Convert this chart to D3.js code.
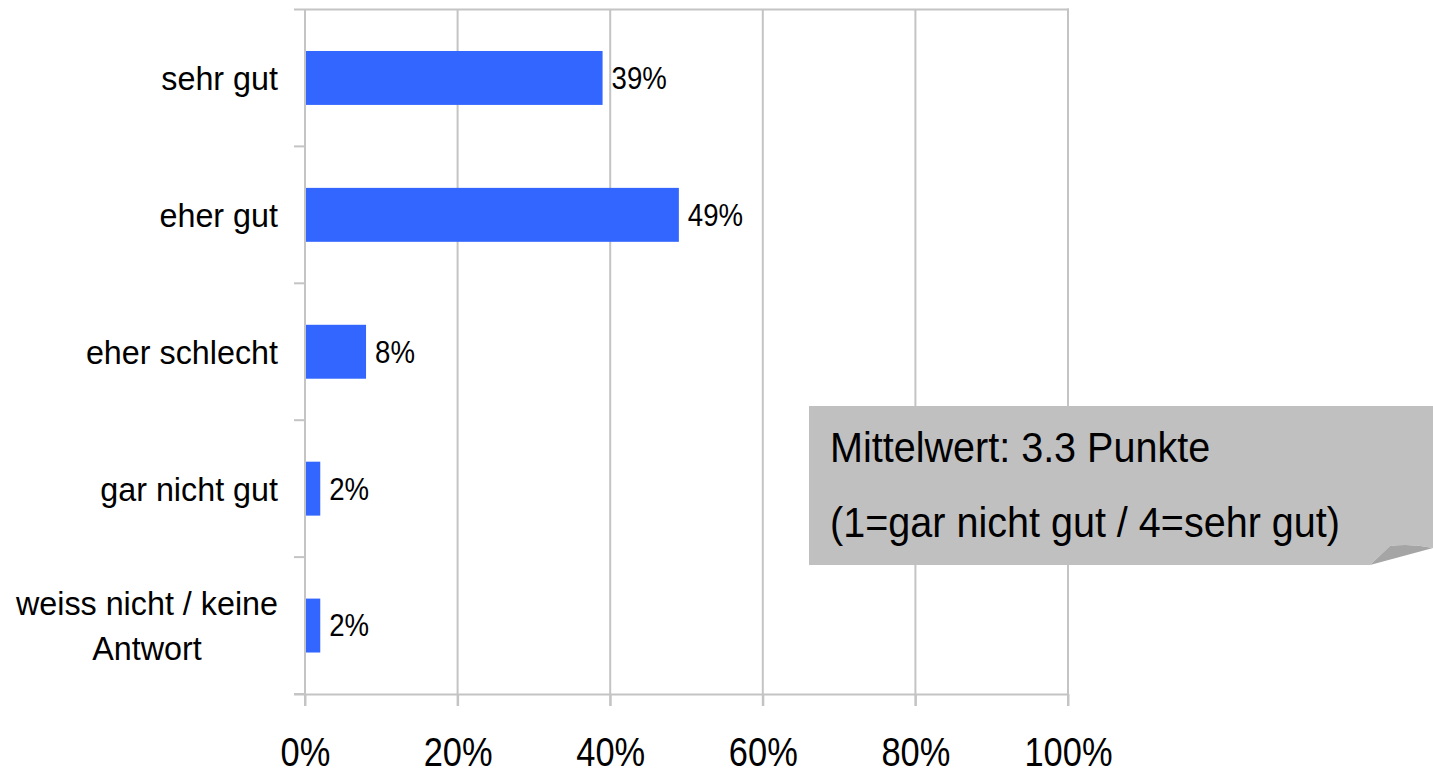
<!DOCTYPE html>
<html>
<head>
<meta charset="utf-8">
<script src="https://cdn.jsdelivr.net/npm/d3@7"></script>
<style>
  html, body { margin: 0; padding: 0; background: #ffffff; }
  svg { display: block; }
  text { font-family: "Liberation Sans", Arial, sans-serif; fill: #000; }
</style>
</head>
<body>
<svg id="chart" width="1433" height="773"></svg>
<script>
// Answer categories (top to bottom) and their shares in percent
const categories = ["sehr gut", "eher gut", "eher schlecht", "gar nicht gut", "weiss nicht / keine\nAntwort"];
const shares = [39, 49, 8, 2, 2];
const xTicks = [0, 20, 40, 60, 80, 100];
const noteLines = ["Mittelwert: 3.3 Punkte", "(1=gar nicht gut / 4=sehr gut)"];

const svg = d3.select("#chart");
const plot = { left: 305, right: 1068, top: 9.5, bottom: 694 };
const gridColor = "#c4c4c4";

const x = d3.scaleLinear().domain([0, 100]).range([plot.left, plot.right]);
const y = d3.scaleBand()
  .domain(categories)
  .range([plot.top, plot.bottom])
  .paddingInner(0.606)
  .paddingOuter(0.303);

// vertical gridlines, running a little below the axis as tick marks
svg.append("g").selectAll("line")
  .data(xTicks.filter(d => d > 0))
  .join("line")
  .attr("x1", d => x(d)).attr("x2", d => x(d))
  .attr("y1", plot.top).attr("y2", plot.bottom + 12)
  .attr("stroke", gridColor).attr("stroke-width", 2);

// top border
svg.append("line")
  .attr("x1", plot.left - 11).attr("x2", plot.right + 1)
  .attr("y1", plot.top).attr("y2", plot.top)
  .attr("stroke", gridColor).attr("stroke-width", 2);

// bottom axis
const xAxis = d3.axisBottom(x)
  .tickValues(xTicks)
  .tickFormat(d => d + "%")
  .tickSize(12)
  .tickSizeOuter(0);
const gx = svg.append("g")
  .attr("transform", `translate(0,${plot.bottom})`)
  .call(xAxis);
gx.select(".domain")
  .attr("stroke", gridColor).attr("stroke-width", 2)
  .attr("d", `M${plot.left - 11},0.5H${plot.right + 1}`);
gx.selectAll(".tick line").attr("stroke", gridColor).attr("stroke-width", 2);
gx.selectAll(".tick text")
  .attr("y", 0).attr("dy", null)
  .attr("transform", "translate(0,72) scale(0.84,1)")
  .style("font-size", "41px")
  .style("font-family", "'Liberation Sans', Arial, sans-serif")
  .attr("fill", "#000");

// left axis line and category boundary ticks
svg.append("line")
  .attr("x1", plot.left).attr("x2", plot.left)
  .attr("y1", plot.top).attr("y2", plot.bottom + 12)
  .attr("stroke", gridColor).attr("stroke-width", 2);
const step = y.step();
const bounds = categories.map((c, i) => plot.top + step * (i + 1));
svg.append("g").selectAll("line")
  .data(bounds)
  .join("line")
  .attr("x1", plot.left - 11).attr("x2", plot.left)
  .attr("y1", d => d).attr("y2", d => d)
  .attr("stroke", gridColor).attr("stroke-width", 2);

// right border
svg.append("line")
  .attr("x1", plot.right).attr("x2", plot.right)
  .attr("y1", plot.top - 1).attr("y2", plot.bottom)
  .attr("stroke", gridColor).attr("stroke-width", 2);

// bars
svg.append("g").selectAll("rect")
  .data(categories)
  .join("rect")
  .attr("x", plot.left + 1)
  .attr("y", d => y(d))
  .attr("width", (d, i) => x(shares[i]) - plot.left - 1)
  .attr("height", y.bandwidth())
  .attr("fill", "#3366ff");

// value labels
svg.append("g").selectAll("text")
  .data(categories)
  .join("text")
  .attr("transform", (d, i) => `translate(${x(shares[i]) + 9},${y(d) + y.bandwidth() / 2}) scale(0.89,1)`)
  .attr("dy", "0.35em")
  .style("font-size", "31px")
  .text((d, i) => shares[i] + "%");

// category labels (multi-line labels are centred on each other)
const catG = svg.append("g");
categories.forEach(c => {
  const lines = c.split("\n");
  const cy = y(c) + y.bandwidth() / 2;
  const lh = 45;
  const t = catG.append("text")
    .attr("transform", `translate(278,${cy}) scale(0.95,1)`)
    .style("font-size", "34px")
    .attr("text-anchor", "end");
  lines.forEach((ln, k) => {
    t.append("tspan")
      .attr("x", 0)
      .attr("y", (k - (lines.length - 1) / 2) * lh)
      .attr("dy", "0.35em")
      .text(ln);
  });
});
// centre the lines of multi-line labels relative to the widest line
catG.selectAll("text").each(function() {
  const spans = d3.select(this).selectAll("tspan");
  if (spans.size() < 2) return;
  const widths = spans.nodes().map(n => n.getComputedTextLength());
  const maxW = d3.max(widths);
  spans.attr("x", (d, k) => -(maxW - widths[k]) / 2);
});

// note box with curled corner
const note = svg.append("g");
note.append("path")
  .attr("d", "M809,406H1433V548Q1410,543 1390,546L1370,565H809Z")
  .attr("fill", "#c0c0c0");
note.append("path")
  .attr("d", "M1370,565L1390,546Q1410,543 1433,548Z")
  .attr("fill", "#a5a5a5");
note.selectAll("text")
  .data(noteLines)
  .join("text")
  .attr("transform", (d, i) => `translate(830,${462 + i * 75}) scale(0.92,1)`)
  .style("font-size", "43px")
  .text(d => d);
</script>
</body>
</html>
